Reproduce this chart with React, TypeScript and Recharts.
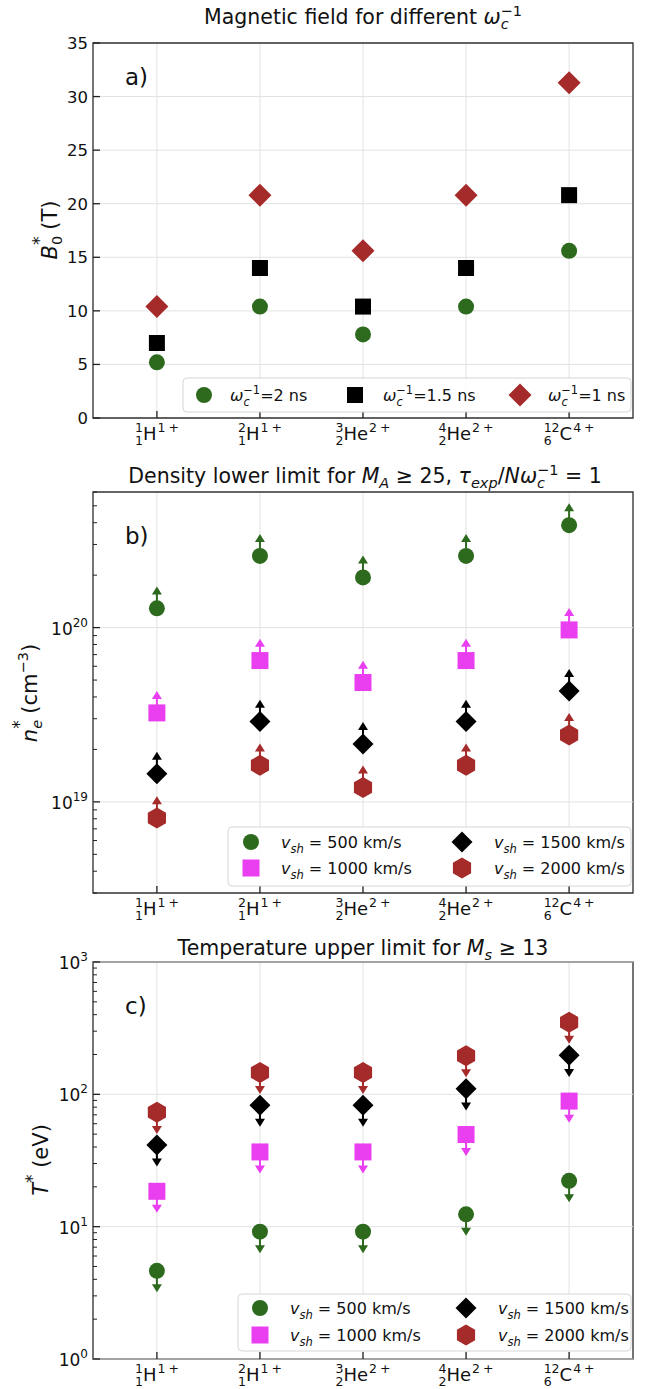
import React from 'react'
import { ScatterChart, Scatter, XAxis, YAxis, CartesianGrid, ErrorBar, ReferenceLine, ReferenceArea } from 'recharts'

// isotopes on the x axis
const categories = ['H-1', 'H-2', 'He-3', 'He-4', 'C-12']
const massNumbers = ['1', '2', '3', '4', '12']
const atomicNumbers = ['1', '1', '2', '2', '6']
const elements = ['H', 'H', 'He', 'He', 'C']
const charges = ['1', '1', '2', '2', '4']

// a) magnetic field B0* (T)
const bOmega2 = [5.2, 10.4, 7.8, 10.4, 15.6]
const bOmega15 = [7.0, 14.0, 10.4, 14.0, 20.8]
const bOmega1 = [10.4, 20.8, 15.6, 20.8, 31.3]
const bTicks = [0, 5, 10, 15, 20, 25, 30, 35]

// b) density lower limit ne* (cm^-3)
const ne500 = [1.29e20, 2.58e20, 1.94e20, 2.58e20, 3.87e20]
const ne1000 = [3.24e19, 6.47e19, 4.84e19, 6.47e19, 9.7e19]
const ne1500 = [1.45e19, 2.89e19, 2.15e19, 2.89e19, 4.33e19]
const ne2000 = [8.07e18, 1.62e19, 1.21e19, 1.62e19, 2.42e19]
const neMajors = [1e19, 1e20]
const neMinors = [3e18, 4e18, 5e18, 6e18, 7e18, 8e18, 9e18, 2e19, 3e19, 4e19, 5e19, 6e19, 7e19, 8e19, 9e19, 2e20, 3e20, 4e20, 5e20, 6e20]

// c) temperature upper limit T* (eV)
const t500 = [4.64, 9.17, 9.17, 12.4, 22.2]
const t1000 = [18.5, 36.7, 36.7, 49.7, 88.9]
const t1500 = [41.5, 82.6, 82.6, 110, 197]
const t2000 = [73.1, 146, 146, 196, 351]
const tMajors = [1, 10, 100, 1000]
const tMinors = [2, 3, 4, 5, 6, 7, 8, 9, 20, 30, 40, 50, 60, 70, 80, 90, 200, 300, 400, 500, 600, 700, 800, 900]

const GREEN = '#2d6a1e'
const MAGENTA = '#ea3ff0'
const BROWN = '#a52a2a'
const BLACK = '#000000'
const FONT = '"DejaVu Sans", sans-serif'
const INK = '#111'
const W = 649
const X_DOMAIN = [-0.62, 4.62]

type Kind = 'circle' | 'square' | 'diamond' | 'hexagon'

function Marker({ kind, cx, cy, color, size }: { kind: Kind; cx: number; cy: number; color: string; size: number }) {
  if (kind === 'circle') return <circle cx={cx} cy={cy} r={size} fill={color} />
  if (kind === 'square') return <rect x={cx - size} y={cy - size} width={size * 2} height={size * 2} fill={color} />
  if (kind === 'diamond')
    return <polygon points={`${cx},${cy - size} ${cx + size},${cy} ${cx},${cy + size} ${cx - size},${cy}`} fill={color} />
  const pts = [0, 1, 2, 3, 4, 5].map(k => {
    const a = (Math.PI / 3) * k - Math.PI / 2
    return `${cx + size * Math.cos(a)},${cy + size * Math.sin(a)}`
  })
  return <polygon points={pts.join(' ')} fill={color} />
}

// rough DejaVu Sans advance widths (em)
const CW: Record<string, number> = { H: 0.752, e: 0.615, C: 0.698, '+': 0.838 }
const textW = (s: string, size: number) => s.split('').reduce((t, c) => t + (CW[c] ?? 0.636), 0) * size

function IsotopeTick(props: any) {
  const { x, y, payload } = props
  const i = Math.round(payload.value)
  const M = 18, S = 12.5
  const pre = Math.max(textW(massNumbers[i], S), textW(atomicNumbers[i], S))
  const el = textW(elements[i], M)
  const total = pre + el + 1 + textW(charges[i], S) + 3 + textW('+', S)
  const x0 = x - total / 2
  return (
    <g fontFamily={FONT} fill={INK}>
      <line x1={x} x2={x} y1={y} y2={y - 7} stroke="#222" strokeWidth={1.3} />
      <text x={x0} y={y + 14} fontSize={S}>{massNumbers[i]}</text>
      <text x={x0} y={y + 27} fontSize={S}>{atomicNumbers[i]}</text>
      <text x={x0 + pre} y={y + 22} fontSize={M}>
        {elements[i]}
        <tspan dx={1} dy={-8} fontSize={S}>{charges[i]}</tspan>
        <tspan dx={3} fontSize={S}>+</tspan>
      </text>
    </g>
  )
}

function ValueTick(props: any) {
  const { x, y, payload, majors, log } = props
  const v = payload.value
  const major = !log || majors.includes(v)
  return (
    <g fontFamily={FONT} fill={INK}>
      <line x1={x} x2={x + (major ? 7 : 4)} y1={y} y2={y} stroke="#222" strokeWidth={major ? 1.3 : 1} />
      {major && !log && (
        <text x={x - 5} y={y + 6} fontSize={16.5} textAnchor="end">{v}</text>
      )}
      {major && log && (
        <text x={x - 5} y={y + 7} fontSize={17} textAnchor="end">
          10<tspan dy={-8} fontSize={12}>{Math.round(Math.log10(v))}</tspan>
        </text>
      )}
    </g>
  )
}

type Series = { name: string; values: number[]; color: string; kind: Kind; size: number }

function Panel({ top, height, marginTop, axisHeight, domain, log, ticks, majors, series, limit }: {
  top: number; height: number; marginTop: number; axisHeight: number; domain: number[]; log: boolean
  ticks: number[]; majors: number[]; series: Series[]; limit?: number
}) {
  return (
    <div style={{ position: 'absolute', left: 0, top, width: W, height }}>
      <ScatterChart width={W} height={height} margin={{ top: marginTop, right: 16, bottom: 0, left: 0 }}>
        <CartesianGrid stroke="#e2e2e2" strokeWidth={1} horizontal={!log} vertical />
        {log && majors.map(v => <ReferenceLine key={v} y={v} stroke="#e2e2e2" strokeWidth={1} />)}
        <XAxis type="number" dataKey="x" domain={X_DOMAIN} ticks={[0, 1, 2, 3, 4]} interval={0} allowDataOverflow
          axisLine={false} tickLine={false} tickSize={0} tickMargin={0} height={axisHeight} tick={<IsotopeTick />} />
        <YAxis type="number" dataKey="y" scale={log ? 'log' : 'linear'} domain={domain} ticks={ticks} interval={0}
          allowDataOverflow width={93} axisLine={false} tickLine={false} tickSize={0} tickMargin={0}
          tick={<ValueTick majors={majors} log={log} />} />
        {limit && series.map(s => (
          <Scatter key={s.name + '-tip'} name={s.name + ' limit'} isAnimationActive={false}
            data={s.values.map((v, i) => ({ x: i, y: v * limit }))}
            shape={(p: any) => {
              const d = limit > 1 ? -1 : 1
              return <polygon fill={s.color}
                points={`${p.cx},${p.cy + d * 5} ${p.cx - 5},${p.cy - d * 3} ${p.cx + 5},${p.cy - d * 3}`} />
            }} />
        ))}
        {series.map(s => (
          <Scatter key={s.name} name={s.name} isAnimationActive={false}
            data={s.values.map((v, i) => ({
              x: i, y: v, err: limit ? (limit > 1 ? [0, v * (limit - 1)] : [v * (1 - limit), 0]) : [0, 0],
            }))}
            shape={(p: any) => <Marker kind={s.kind} cx={p.cx} cy={p.cy} color={s.color} size={s.size} />}>
            {limit && <ErrorBar dataKey="err" direction="y" width={0} strokeWidth={2} stroke={s.color} isAnimationActive={false} />}
          </Scatter>
        ))}
        <ReferenceArea x1={X_DOMAIN[0]} x2={X_DOMAIN[1]} y1={domain[0]} y2={domain[1]} fill="none"
          fillOpacity={0} stroke="#333" strokeWidth={1.3} />
      </ScatterChart>
    </div>
  )
}

function LegendBox({ x, y, w, h, items }: {
  x: number; y: number; w: number; h: number
  items: { kind: Kind; color: string; size: number; mx: number; tx: number; cy: number; label: React.ReactNode }[]
}) {
  return (
    <g>
      <rect x={x} y={y} width={w} height={h} rx={4} fill="#fff" fillOpacity={0.85} stroke="#d6d6d6" strokeWidth={1} />
      {items.map((it, k) => (
        <g key={k}>
          <Marker kind={it.kind} cx={it.mx} cy={it.cy} color={it.color} size={it.size} />
          <text x={it.tx} y={it.cy + 6} fontSize={16}>{it.label}</text>
        </g>
      ))}
    </g>
  )
}

const omegaLabel = (v: string) => (
  <>
    <tspan fontStyle="italic">ω</tspan>
    <tspan dy={5} fontSize={11.5} fontStyle="italic">c</tspan>
    <tspan dx={-6.5} dy={-12} fontSize={11.5}>−1</tspan>
    <tspan dy={7}>{`=${v} ns`}</tspan>
  </>
)
const vshLabel = (v: string) => (
  <>
    <tspan fontStyle="italic">v</tspan>
    <tspan dy={5} fontSize={11.5} fontStyle="italic">sh</tspan>
    <tspan dy={-5}>{` = ${v} km/s`}</tspan>
  </>
)

export default function App() {
  const seriesA: Series[] = [
    { name: 'w2', values: bOmega2, color: GREEN, kind: 'circle', size: 8 },
    { name: 'w15', values: bOmega15, color: BLACK, kind: 'square', size: 8 },
    { name: 'w1', values: bOmega1, color: BROWN, kind: 'diamond', size: 11.5 },
  ]
  const vsh = (a: number[], b: number[], c: number[], d: number[]): Series[] => [
    { name: 'v500', values: a, color: GREEN, kind: 'circle', size: 8 },
    { name: 'v1000', values: b, color: MAGENTA, kind: 'square', size: 8.5 },
    { name: 'v1500', values: c, color: BLACK, kind: 'diamond', size: 10.5 },
    { name: 'v2000', values: d, color: BROWN, kind: 'hexagon', size: 10.5 },
  ]
  const vshItems = (mx1: number, tx1: number, mx2: number, tx2: number, r1: number, r2: number) => [
    { kind: 'circle' as Kind, color: GREEN, size: 8, mx: mx1, tx: tx1, cy: r1, label: vshLabel('500') },
    { kind: 'square' as Kind, color: MAGENTA, size: 8.5, mx: mx1, tx: tx1, cy: r2, label: vshLabel('1000') },
    { kind: 'diamond' as Kind, color: BLACK, size: 10.5, mx: mx2, tx: tx2, cy: r1, label: vshLabel('1500') },
    { kind: 'hexagon' as Kind, color: BROWN, size: 10.5, mx: mx2, tx: tx2, cy: r2, label: vshLabel('2000') },
  ]

  return (
    <div style={{ position: 'absolute', left: 0, top: 0, width: W, height: 1389, background: '#fff', overflow: 'hidden' }}>
      <Panel top={0} height={460} marginTop={43} axisHeight={42} domain={[0, 35]} log={false}
        ticks={bTicks} majors={bTicks} series={seriesA} />
      <Panel top={460} height={470} marginTop={32} axisHeight={37} domain={[3e18, 6e20]} log
        ticks={[...neMajors, ...neMinors]} majors={neMajors} series={vsh(ne500, ne1000, ne1500, ne2000)} limit={1.25} />
      <Panel top={920} height={469} marginTop={42} axisHeight={30} domain={[1, 1000]} log
        ticks={[...tMajors, ...tMinors]} majors={tMajors} series={vsh(t500, t1000, t1500, t2000)} limit={0.75} />

      <svg width={W} height={1389} style={{ position: 'absolute', left: 0, top: 0, pointerEvents: 'none' }}
        fontFamily={FONT} fill={INK}>
        {/* titles */}
        <text x={363} y={24} fontSize={20.5} textAnchor="middle">
          Magnetic field for different <tspan fontStyle="italic">ω</tspan>
          <tspan dy={5} fontSize={14.5} fontStyle="italic">c</tspan>
          <tspan dx={-8} dy={-13} fontSize={14.5}>−1</tspan>
        </text>
        <text x={365} y={483} fontSize={20.5} textAnchor="middle">
          Density lower limit for <tspan fontStyle="italic">M</tspan>
          <tspan dy={5} fontSize={14.5} fontStyle="italic">A</tspan>
          <tspan dy={-5}>{' ≥ 25, '}</tspan>
          <tspan fontStyle="italic">τ</tspan>
          <tspan dy={5} fontSize={14.5} fontStyle="italic">exp</tspan>
          <tspan dy={-5}>/</tspan>
          <tspan fontStyle="italic">Nω</tspan>
          <tspan dy={5} fontSize={14.5} fontStyle="italic">c</tspan>
          <tspan dx={-8} dy={-13} fontSize={14.5}>−1</tspan>
          <tspan dy={8}>{' = 1'}</tspan>
        </text>
        <text x={363} y={955} fontSize={20.5} textAnchor="middle">
          Temperature upper limit for <tspan fontStyle="italic">M</tspan>
          <tspan dy={5} fontSize={14.5} fontStyle="italic">s</tspan>
          <tspan dy={-5}>{' ≥ 13'}</tspan>
        </text>

        {/* panel letters */}
        <text x={125} y={85} fontSize={23}>a)</text>
        <text x={125} y={544} fontSize={23}>b)</text>
        <text x={125} y={1014} fontSize={23}>c)</text>

        {/* y labels */}
        <text x={57} y={230} fontSize={21} textAnchor="middle" transform="rotate(-90 57 230)">
          <tspan fontStyle="italic">B</tspan>
          <tspan dy={5} fontSize={14.5}>0</tspan>
          <tspan dx={-9.2} dy={-17} fontSize={17}>*</tspan>
          <tspan dy={12}>{'  (T)'}</tspan>
        </text>
        <text x={37} y={693} fontSize={21} textAnchor="middle" transform="rotate(-90 37 693)">
          <tspan fontStyle="italic">n</tspan>
          <tspan dy={5} fontSize={14.5} fontStyle="italic">e</tspan>
          <tspan dx={-8.9} dy={-17} fontSize={17}>*</tspan>
          <tspan dy={12}>{'  (cm'}</tspan>
          <tspan dy={-9} fontSize={14.5}>−3</tspan>
          <tspan dy={9}>)</tspan>
        </text>
        <text x={48} y={1160} fontSize={21} textAnchor="middle" transform="rotate(-90 48 1160)">
          <tspan fontStyle="italic">T</tspan>
          <tspan dy={-10} fontSize={17}>*</tspan>
          <tspan dy={10}>{'  (eV)'}</tspan>
        </text>

        {/* legends */}
        <LegendBox x={183} y={378} w={448} h={34} items={[
          { kind: 'circle', color: GREEN, size: 8, mx: 204, tx: 230, cy: 395, label: omegaLabel('2') },
          { kind: 'square', color: BLACK, size: 8, mx: 355, tx: 383, cy: 395, label: omegaLabel('1.5') },
          { kind: 'diamond', color: BROWN, size: 11.5, mx: 520, tx: 548, cy: 395, label: omegaLabel('1') },
        ]} />
        <LegendBox x={228} y={827} w={403} h={59} items={vshItems(251, 281, 462, 494, 842, 868)} />
        <LegendBox x={238} y={1294} w={393} h={57} items={vshItems(260, 290, 466, 498, 1308, 1335)} />
      </svg>
    </div>
  )
}
